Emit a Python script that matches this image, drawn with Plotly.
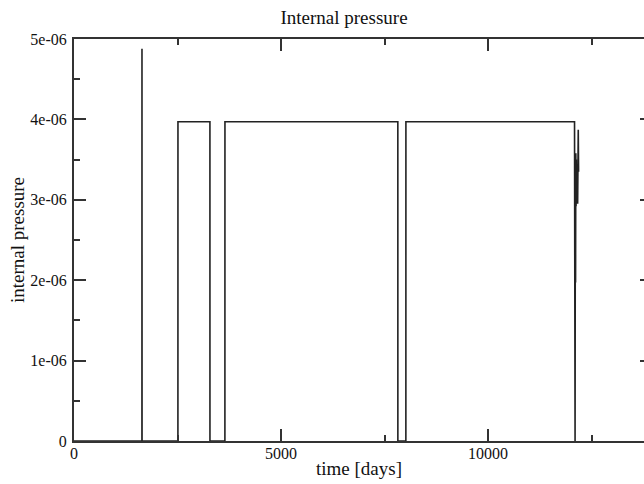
import plotly.graph_objects as go

# time [days] and internal pressure values (step-like series)
time_days = [0, 1641, 1642, 1644,
             2510, 2511, 3283, 3284,
             3645, 3646, 7822, 7823,
             8016, 8017, 12090, 12091,
             12097, 12103, 12109, 12115, 12121, 12127, 12133, 12140,
             12150, 12165, 12180, 12188]
pressure = [0, 0, 4.88e-06, 0,
            0, 3.97e-06, 3.97e-06, 0,
            0, 3.97e-06, 3.97e-06, 0,
            0, 3.97e-06, 3.97e-06, 0,
            1.97e-06, 0, 2.92e-06, 1.97e-06, 3.58e-06, 2.92e-06, 3.5e-06, 2.98e-06,
            3.42e-06, 2.95e-06, 3.87e-06, 3.35e-06]

x_tickvals = [0, 5000, 10000]
x_ticktext = ["0", "5000", "10000"]
y_tickvals = [0, 1e-06, 2e-06, 3e-06, 4e-06, 5e-06]
y_ticktext = ["0", "1e-06", "2e-06", "3e-06", "4e-06", "5e-06"]

W, H = 644, 484
font_family = "Liberation Serif, Times New Roman, serif"
axis_col = "#333333"
txt_col = "#111111"

fig = go.Figure()
fig.add_trace(go.Scatter(x=time_days, y=pressure, mode="lines",
                         line=dict(color="#222222", width=1.6),
                         showlegend=False, hoverinfo="skip"))
# same data on the right-hand overlay axis (invisible), to carry its tick stubs
fig.add_trace(go.Scatter(x=time_days, y=pressure, mode="lines", yaxis="y2",
                         line=dict(color="rgba(0,0,0,0)", width=0),
                         showlegend=False, hoverinfo="skip"))

fig.update_layout(
    width=W, height=H,
    margin=dict(l=74, r=0, t=39, b=43),
    paper_bgcolor="white", plot_bgcolor="white",
    title=dict(text="Internal pressure", x=344 / W, xanchor="center",
               y=1 - 17 / H, yanchor="middle",
               font=dict(family=font_family, size=19, color=txt_col)),
    xaxis=dict(range=[0, 13768], tickmode="array", tickvals=x_tickvals,
               ticktext=x_ticktext, showline=True, linecolor=axis_col,
               linewidth=2, ticks="inside", ticklen=12, tickwidth=2,
               tickcolor=axis_col, mirror="ticks", showgrid=False,
               zeroline=False, ticklabelstandoff=-3,
               tickfont=dict(family=font_family, size=16, color=txt_col),
               minor=dict(ticks="inside", ticklen=6, tickwidth=2,
                          tickcolor=axis_col, dtick=2500, tick0=0),
               title=dict(text="time [days]", standoff=0,
                          font=dict(family=font_family, size=19, color=txt_col))),
    yaxis=dict(range=[0, 5e-06], tickmode="array", tickvals=y_tickvals,
               ticktext=y_ticktext, showline=True, linecolor=axis_col,
               linewidth=2, ticks="inside", ticklen=12, tickwidth=2,
               tickcolor=axis_col, mirror=False, showgrid=False,
               zeroline=False, ticklabelstandoff=2,
               tickfont=dict(family=font_family, size=16, color=txt_col),
               minor=dict(ticks="inside", ticklen=6, tickwidth=2,
                          tickcolor=axis_col, dtick=0.5e-06, tick0=0),
               title=dict(text="internal pressure", standoff=1,
                          font=dict(family=font_family, size=19, color=txt_col))),
    yaxis2=dict(range=[0, 5e-06], overlaying="y", side="right",
                tickmode="array", tickvals=y_tickvals, showticklabels=False,
                showline=False, ticks="inside", ticklen=4, tickwidth=2,
                tickcolor=axis_col, showgrid=False, zeroline=False),
)

fig.write_html("out.html",
               config={"displayModeBar": False, "staticPlot": True},
               post_script="document.body.style.margin='0';"
                           "document.body.style.overflow='hidden';")
